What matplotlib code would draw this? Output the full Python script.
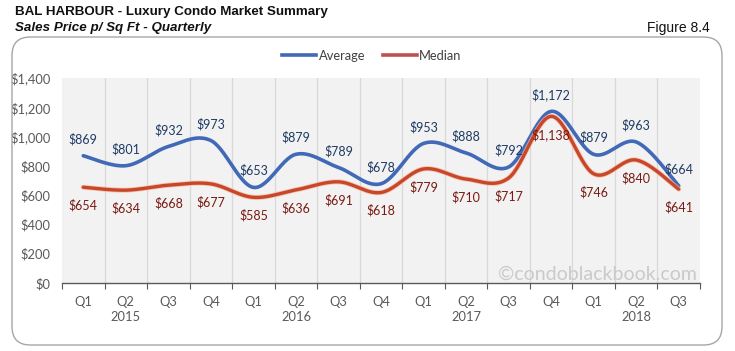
import numpy as np
import matplotlib
matplotlib.use("Agg")
import matplotlib.pyplot as plt
from matplotlib.patches import FancyBboxPatch
from matplotlib.lines import Line2D
import matplotlib.patheffects as pe

quarters = ["Q1", "Q2", "Q3", "Q4", "Q1", "Q2", "Q3", "Q4", "Q1", "Q2", "Q3", "Q4", "Q1", "Q2", "Q3"]
years = ["2015", "2016", "2017", "2018"]
year_pos = [1, 5, 9, 13]
average = [869, 801, 932, 973, 653, 879, 789, 678, 953, 888, 792, 1172, 879, 963, 664]
median = [654, 634, 668, 677, 585, 636, 691, 618, 779, 710, 717, 1138, 746, 840, 641]
yticks = [0, 200, 400, 600, 800, 1000, 1200, 1400]

FONT = "Lato"
BLUE = "#4169B8"
RED = "#C8472A"


def smooth(y, n=30):
    # Catmull-Rom spline through the points (Excel-style smoothed line)
    x = np.arange(len(y), dtype=float)
    P = np.column_stack([x, np.asarray(y, float)])
    P = np.vstack([P[0], P, P[-1]])
    out = []
    for i in range(1, len(P) - 2):
        p0, p1, p2, p3 = P[i - 1], P[i], P[i + 1], P[i + 2]
        t = np.linspace(0, 1, n, endpoint=False)[:, None]
        pts = 0.5 * ((2 * p1) + (-p0 + p2) * t + (2 * p0 - 5 * p1 + 4 * p2 - p3) * t ** 2
                     + (-p0 + 3 * p1 - 3 * p2 + p3) * t ** 3)
        out.append(pts)
    out.append(P[-2][None, :])
    out = np.vstack(out)
    return out[:, 0], out[:, 1]


fig = plt.figure(figsize=(7.35, 3.51), dpi=100)
fig.patch.set_facecolor("white")

# chart border
border = FancyBboxPatch((12 / 735, 1 - 345 / 351), (722 - 12) / 735, (345 - 37) / 351,
                        boxstyle="round,pad=0,rounding_size=0.025", transform=fig.transFigure,
                        facecolor="none", edgecolor="#A6A6A6", linewidth=1.0, mutation_aspect=2.1)
fig.patches.append(border)

ax = fig.add_axes([62 / 735, 1 - 283 / 351, (700 - 62) / 735, (283 - 78) / 351])
ax.set_facecolor("#F2F2F2")
ax.set_xlim(-0.5, len(quarters) - 0.5)
ax.set_ylim(0, 1400)

for b in np.arange(0.5, len(quarters) - 0.5, 1):
    ax.axvline(b, color="#D9D9D9", linewidth=0.9, zorder=1)

xs, ys = smooth(average)
ax.plot(xs, ys, color=BLUE, linewidth=2.6, zorder=3, solid_capstyle="round")
xm, ym = smooth(median)
ax.plot(xm, ym, color=RED, linewidth=2.4, zorder=4, solid_capstyle="round",
        path_effects=[pe.Stroke(linewidth=3.6, foreground="#F4B9A0", alpha=0.8), pe.Normal()])

for i, v in enumerate(average):
    ax.annotate(f"${v:,}", (i, v), xytext=(0, 12), textcoords="offset points",
                ha="center", va="center", fontsize=9, color="#1F3B63", family=FONT, zorder=6)
for i, v in enumerate(median):
    ax.annotate(f"${v:,}", (i, v), xytext=(0, -13), textcoords="offset points",
                ha="center", va="center", fontsize=9, color="#7A1A12", family=FONT, zorder=6)

ax.set_yticks(yticks)
ax.set_yticklabels([f"${v:,}" for v in yticks], fontsize=9.3, color="#595959", family=FONT)
ax.tick_params(axis="y", length=0, pad=8)

ax.set_xticks(np.arange(-0.5, len(quarters), 1))
ax.set_xticklabels([])
ax.set_xticks(np.arange(len(quarters)), minor=True)
ax.set_xticklabels(quarters, minor=True, fontsize=9.3, color="#595959", family=FONT)
ax.tick_params(axis="x", which="major", length=4, color="#595959", direction="out")
ax.tick_params(axis="x", which="minor", length=0, pad=9)

for p, yr in zip(year_pos, years):
    ax.text(p, -0.165, yr, transform=ax.get_xaxis_transform(), ha="center", va="center",
            fontsize=9.3, color="#595959", family=FONT)

for s in ["left", "right", "top"]:
    ax.spines[s].set_visible(False)
ax.spines["bottom"].set_color("#595959")
ax.spines["bottom"].set_linewidth(1.0)

ax.text(0.995, 0.045, "©condoblackbook.com", transform=ax.transAxes, ha="right", va="center",
        fontsize=14, color="#CACACA", family=FONT, zorder=2)

# titles
fig.text(15 / 735, 1 - 12 / 351, "BAL HARBOUR - Luxury Condo Market Summary", ha="left", va="center",
         fontsize=9.6, fontweight="bold", family="Liberation Sans", color="#111111")
fig.text(15 / 735, 1 - 28 / 351, "Sales Price p/ Sq Ft - Quarterly", ha="left", va="center",
         fontsize=9.6, fontweight="bold", fontstyle="italic", family="Liberation Sans", color="#111111")
fig.text(710 / 735, 1 - 28 / 351, "Figure 8.4", ha="right", va="center",
         fontsize=10, family="Liberation Sans", color="#111111")

handles = [Line2D([], [], color=BLUE, linewidth=2.6), Line2D([], [], color="#C0504D", linewidth=2.6)]
leg = fig.legend(handles, ["Average", "Median"], loc="center", bbox_to_anchor=(372 / 735, 1 - 56 / 351),
                 ncol=2, frameon=False, handlelength=2.6, handletextpad=0.2, columnspacing=1.4,
                 prop={"family": FONT, "size": 9.3})
for t in leg.get_texts():
    t.set_color("#404040")

fig.savefig("out.png", dpi=100, facecolor="white")
